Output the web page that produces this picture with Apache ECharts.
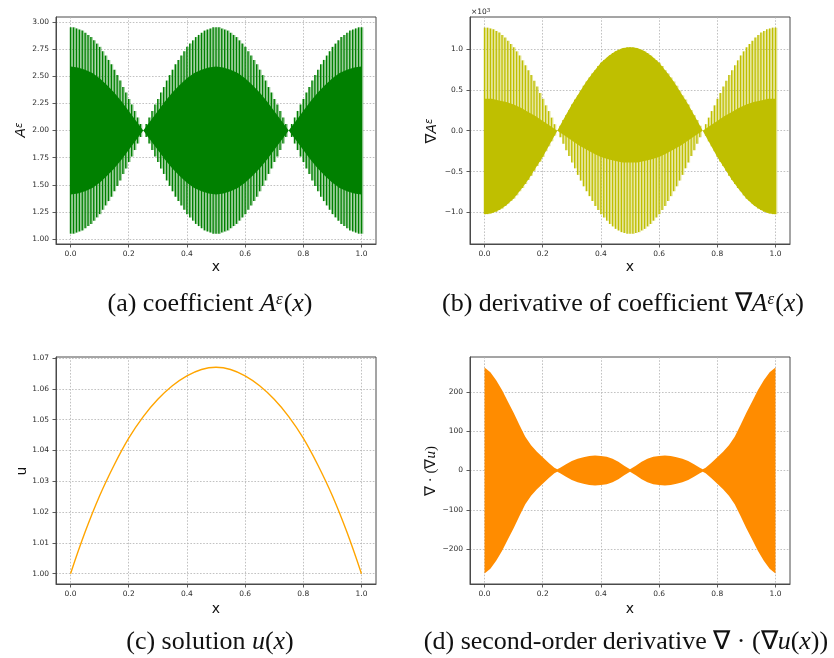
<!DOCTYPE html>
<html>
<head>
<meta charset="utf-8">
<script src="https://cdn.jsdelivr.net/npm/echarts@6/dist/echarts.min.js"></script>
<style>
html, body { margin: 0; padding: 0; background: #ffffff; }
#chart { width: 834px; height: 658px; }
</style>
</head>
<body>
<div id="chart"></div>
<script>
// ---------- shared ----------
const xTicks = [0, 0.2, 0.4, 0.6, 0.8, 1.0];

// sample positions of the oscillation peaks (one per period)
const spikeX = [
  0, 0.01, 0.02, 0.03, 0.04, 0.05, 0.06, 0.07, 0.08, 0.09,
  0.10, 0.11, 0.12, 0.13, 0.14, 0.15, 0.16, 0.17, 0.18, 0.19,
  0.20, 0.21, 0.22, 0.23, 0.24, 0.25, 0.26, 0.27, 0.28, 0.29,
  0.30, 0.31, 0.32, 0.33, 0.34, 0.35, 0.36, 0.37, 0.38, 0.39,
  0.40, 0.41, 0.42, 0.43, 0.44, 0.45, 0.46, 0.47, 0.48, 0.49,
  0.50, 0.51, 0.52, 0.53, 0.54, 0.55, 0.56, 0.57, 0.58, 0.59,
  0.60, 0.61, 0.62, 0.63, 0.64, 0.65, 0.66, 0.67, 0.68, 0.69,
  0.70, 0.71, 0.72, 0.73, 0.74, 0.75, 0.76, 0.77, 0.78, 0.79,
  0.80, 0.81, 0.82, 0.83, 0.84, 0.85, 0.86, 0.87, 0.88, 0.89,
  0.90, 0.91, 0.92, 0.93, 0.94, 0.95, 0.96, 0.97, 0.98, 0.99, 1.00
];

// positions where the solid inner band edges are sampled
const bandX = [
  0, 0.025, 0.05, 0.075, 0.10, 0.125, 0.15, 0.175, 0.20, 0.225,
  0.25, 0.275, 0.30, 0.325, 0.35, 0.375, 0.40, 0.425, 0.45, 0.475,
  0.50, 0.525, 0.55, 0.575, 0.60, 0.625, 0.65, 0.675, 0.70, 0.725,
  0.75, 0.775, 0.80, 0.825, 0.85, 0.875, 0.90, 0.925, 0.95, 0.975, 1.00
];

// ---------- (a) coefficient A^eps ----------
const coefSpikeTop = [
  2.95, 2.95, 2.94, 2.93, 2.92, 2.90, 2.88, 2.86, 2.83, 2.80, 2.77, 2.73, 2.69, 2.65, 2.61, 2.56, 2.51, 2.46, 2.40, 2.35, 2.29, 2.24, 2.18, 2.12, 2.06, 2.00,
  2.06, 2.12, 2.18, 2.24, 2.29, 2.35, 2.40, 2.46, 2.51, 2.56, 2.61, 2.65, 2.69, 2.73, 2.77, 2.80, 2.83, 2.86, 2.88, 2.90, 2.92, 2.93, 2.94, 2.95, 2.95,
  2.95, 2.94, 2.93, 2.92, 2.90, 2.88, 2.86, 2.83, 2.80, 2.77, 2.73, 2.69, 2.65, 2.61, 2.56, 2.51, 2.46, 2.40, 2.35, 2.29, 2.24, 2.18, 2.12, 2.06, 2.00,
  2.06, 2.12, 2.18, 2.24, 2.29, 2.35, 2.40, 2.46, 2.51, 2.56, 2.61, 2.65, 2.69, 2.73, 2.77, 2.80, 2.83, 2.86, 2.88, 2.90, 2.92, 2.93, 2.94, 2.95, 2.95
];
const coefSpikeBottom = [
  1.05, 1.05, 1.06, 1.07, 1.08, 1.10, 1.12, 1.14, 1.17, 1.20, 1.23, 1.27, 1.31, 1.35, 1.39, 1.44, 1.49, 1.54, 1.60, 1.65, 1.71, 1.76, 1.82, 1.88, 1.94, 2.00,
  1.94, 1.88, 1.82, 1.76, 1.71, 1.65, 1.60, 1.54, 1.49, 1.44, 1.39, 1.35, 1.31, 1.27, 1.23, 1.20, 1.17, 1.14, 1.12, 1.10, 1.08, 1.07, 1.06, 1.05, 1.05,
  1.05, 1.06, 1.07, 1.08, 1.10, 1.12, 1.14, 1.17, 1.20, 1.23, 1.27, 1.31, 1.35, 1.39, 1.44, 1.49, 1.54, 1.60, 1.65, 1.71, 1.76, 1.82, 1.88, 1.94, 2.00,
  1.94, 1.88, 1.82, 1.76, 1.71, 1.65, 1.60, 1.54, 1.49, 1.44, 1.39, 1.35, 1.31, 1.27, 1.23, 1.20, 1.17, 1.14, 1.12, 1.10, 1.08, 1.07, 1.06, 1.05, 1.05
];
const coefBandTop = [
  2.59, 2.58, 2.56, 2.53, 2.48, 2.42, 2.35, 2.27, 2.18, 2.09, 2.00,
  2.09, 2.18, 2.27, 2.35, 2.42, 2.48, 2.53, 2.56, 2.58, 2.59,
  2.58, 2.56, 2.53, 2.48, 2.42, 2.35, 2.27, 2.18, 2.09, 2.00,
  2.09, 2.18, 2.27, 2.35, 2.42, 2.48, 2.53, 2.56, 2.58, 2.59
];
const coefBandBottom = [
  1.41, 1.42, 1.44, 1.47, 1.52, 1.58, 1.65, 1.73, 1.82, 1.91, 2.00,
  1.91, 1.82, 1.73, 1.65, 1.58, 1.52, 1.47, 1.44, 1.42, 1.41,
  1.42, 1.44, 1.47, 1.52, 1.58, 1.65, 1.73, 1.82, 1.91, 2.00,
  1.91, 1.82, 1.73, 1.65, 1.58, 1.52, 1.47, 1.44, 1.42, 1.41
];
const coefTicks = [1.00, 1.25, 1.50, 1.75, 2.00, 2.25, 2.50, 2.75, 3.00];

// ---------- (b) derivative of A^eps, in units of 10^3 ----------
const derivSpikeHigh = [
  1.26, 1.26, 1.25, 1.24, 1.22, 1.20, 1.17, 1.14, 1.10, 1.06, 1.02, 0.97, 0.92, 0.86, 0.80, 0.74, 0.68, 0.61, 0.54, 0.46, 0.39, 0.31, 0.24, 0.16, 0.08, 0.00,
  0.06, 0.13, 0.19, 0.25, 0.32, 0.38, 0.43, 0.49, 0.55, 0.60, 0.65, 0.70, 0.74, 0.79, 0.83, 0.86, 0.89, 0.92, 0.95, 0.97, 0.99, 1.00, 1.01, 1.02, 1.02,
  1.02, 1.01, 1.00, 0.99, 0.97, 0.95, 0.92, 0.89, 0.86, 0.83, 0.79, 0.74, 0.70, 0.65, 0.60, 0.55, 0.49, 0.43, 0.38, 0.32, 0.25, 0.19, 0.13, 0.06, 0.00,
  0.08, 0.16, 0.24, 0.31, 0.39, 0.46, 0.54, 0.61, 0.68, 0.74, 0.80, 0.86, 0.92, 0.97, 1.02, 1.06, 1.10, 1.14, 1.17, 1.20, 1.22, 1.24, 1.25, 1.26, 1.26
];
const derivSpikeLow = [
  -1.02, -1.02, -1.01, -1.00, -0.99, -0.97, -0.95, -0.92, -0.89, -0.86, -0.83, -0.79, -0.74, -0.70, -0.65, -0.60, -0.55, -0.49, -0.43, -0.38, -0.32, -0.25, -0.19, -0.13, -0.06, 0.00,
  -0.08, -0.16, -0.24, -0.31, -0.39, -0.46, -0.54, -0.61, -0.68, -0.74, -0.80, -0.86, -0.92, -0.97, -1.02, -1.06, -1.10, -1.14, -1.17, -1.20, -1.22, -1.24, -1.25, -1.26, -1.26,
  -1.26, -1.25, -1.24, -1.22, -1.20, -1.17, -1.14, -1.10, -1.06, -1.02, -0.97, -0.92, -0.86, -0.80, -0.74, -0.68, -0.61, -0.54, -0.46, -0.39, -0.31, -0.24, -0.16, -0.08, 0.00,
  -0.06, -0.13, -0.19, -0.25, -0.32, -0.38, -0.43, -0.49, -0.55, -0.60, -0.65, -0.70, -0.74, -0.79, -0.83, -0.86, -0.89, -0.92, -0.95, -0.97, -0.99, -1.00, -1.01, -1.02, -1.02
];
const derivBandTop = [
  0.39, 0.39, 0.37, 0.35, 0.32, 0.28, 0.23, 0.18, 0.12, 0.06, 0.00,
  0.16, 0.32, 0.46, 0.60, 0.72, 0.83, 0.91, 0.97, 1.01, 1.02,
  1.01, 0.97, 0.91, 0.83, 0.72, 0.60, 0.46, 0.32, 0.16, 0.00,
  0.06, 0.12, 0.18, 0.23, 0.28, 0.32, 0.35, 0.37, 0.39, 0.39
];
const derivBandBottom = [
  -1.02, -1.01, -0.97, -0.91, -0.83, -0.72, -0.60, -0.46, -0.32, -0.16, 0.00,
  -0.06, -0.12, -0.18, -0.23, -0.28, -0.32, -0.35, -0.37, -0.39, -0.39,
  -0.39, -0.37, -0.35, -0.32, -0.28, -0.23, -0.18, -0.12, -0.06, 0.00,
  -0.16, -0.32, -0.46, -0.60, -0.72, -0.83, -0.91, -0.97, -1.01, -1.02
];
const derivTicks = [-1.0, -0.5, 0.0, 0.5, 1.0];

// ---------- (c) solution u ----------
const solX = [0, 0.05, 0.10, 0.15, 0.20, 0.25, 0.30, 0.35, 0.40, 0.45, 0.50,
              0.55, 0.60, 0.65, 0.70, 0.75, 0.80, 0.85, 0.90, 0.95, 1.00];
const solU = [1.0000, 1.0135, 1.0253, 1.0353, 1.0440, 1.0510, 1.0566, 1.0610, 1.0642, 1.0663, 1.0670,
              1.0663, 1.0642, 1.0610, 1.0566, 1.0510, 1.0440, 1.0353, 1.0253, 1.0135, 1.0000];
const solTicks = [1.00, 1.01, 1.02, 1.03, 1.04, 1.05, 1.06, 1.07];

// ---------- (d) second-order derivative, envelope of the oscillation ----------
const secondX = [0, 0.02, 0.04, 0.06, 0.08, 0.10, 0.12, 0.14, 0.16, 0.18, 0.20, 0.22, 0.24, 0.25, 0.26,
                 0.28, 0.30, 0.32, 0.34, 0.36, 0.38, 0.40, 0.42, 0.44, 0.46, 0.48, 0.50,
                 0.52, 0.54, 0.56, 0.58, 0.60, 0.62, 0.64, 0.66, 0.68, 0.70, 0.72, 0.74, 0.75, 0.76,
                 0.78, 0.80, 0.82, 0.84, 0.86, 0.88, 0.90, 0.92, 0.94, 0.96, 0.98, 1.00];
const secondTop = [262, 250, 230, 205, 176, 147, 116, 86, 64, 48, 34, 20, 7, 3, 7,
                   16, 24, 30, 34, 37, 38, 37, 35, 30, 22, 12, 3,
                   12, 22, 30, 35, 37, 38, 37, 34, 30, 24, 16, 7, 3, 7,
                   20, 34, 48, 64, 86, 116, 147, 176, 205, 230, 250, 262];
const secondBottom = [-262, -250, -230, -205, -176, -147, -116, -86, -64, -48, -34, -20, -7, -3, -7,
                      -16, -24, -30, -34, -37, -38, -37, -35, -30, -22, -12, -3,
                      -12, -22, -30, -35, -37, -38, -37, -34, -30, -24, -16, -7, -3, -7,
                      -20, -34, -48, -64, -86, -116, -147, -176, -205, -230, -250, -262];
const secondTicks = [-200, -100, 0, 100, 200];

// ---------- styling helpers ----------
const SANS = 'DejaVu Sans';
const SERIF = 'Liberation Serif';
const TICK_COLOR = '#2b2b2b';
const FRAME = '#4a4a4a';

const grids = [
  { left: 56,  top: 17,  width: 320, height: 227 },
  { left: 470, top: 17,  width: 320, height: 227 },
  { left: 56,  top: 357, width: 320, height: 227 },
  { left: 470, top: 357, width: 320, height: 227 }
].map(g => Object.assign({ show: true, borderColor: FRAME, borderWidth: 1, backgroundColor: 'transparent' }, g));

function gridLine() {
  return { show: true, lineStyle: { color: '#b3b3b3', width: 0.8, type: [1.6, 1.6] } };
}

const axisLineStyle = { show: true, onZero: false, lineStyle: { color: FRAME, width: 1 } };

function makeXAxis(gi) {
  return {
    type: 'value', gridIndex: gi, min: -0.05, max: 1.05, position: 'bottom',
    axisLine: axisLineStyle,
    axisTick: { show: true, inside: false, length: 3.5, customValues: xTicks, lineStyle: { color: FRAME, width: 0.9 } },
    axisLabel: { customValues: xTicks, formatter: v => v.toFixed(1), fontSize: 7.5, color: TICK_COLOR,
                 fontFamily: SANS, margin: 6 },
    splitLine: gridLine()
  };
}

function makeYAxis(gi, min, max, ticks, fmt) {
  return {
    type: 'value', gridIndex: gi, min: min, max: max, position: 'left',
    axisLine: axisLineStyle,
    axisTick: { show: true, inside: false, length: 3.5, customValues: ticks, lineStyle: { color: FRAME, width: 0.9 } },
    axisLabel: { customValues: ticks, formatter: fmt, fontSize: 7.5, color: TICK_COLOR,
                 fontFamily: SANS, margin: 7 },
    splitLine: gridLine()
  };
}

const minusFmt = digits => v => (v < 0 ? '\u2212' : '') + Math.abs(v).toFixed(digits);

// vertical strokes of the fast oscillation: a solid stroke with a faint edge next to it
function spikeRenderer(color) {
  return function (params, api) {
    const x = api.value(0);
    const top = api.coord([x, api.value(2)]);
    const bot = api.coord([x, api.value(1)]);
    const h = bot[1] - top[1];
    return {
      type: 'group',
      children: [
        { type: 'rect', shape: { x: top[0] - 0.75, y: top[1], width: 1.5, height: h }, style: { fill: color } },
        { type: 'rect', shape: { x: top[0] + 0.75, y: top[1], width: 1.2, height: h }, style: { fill: color, opacity: 0.4 } }
      ]
    };
  };
}

// solid region between two sampled edges, drawn as one polygon
function bandRenderer(xs, tops, bottoms, color) {
  return function (params, api) {
    if (params.dataIndex !== 0) return null;
    const pts = [];
    for (let i = 0; i < xs.length; i++) pts.push(api.coord([xs[i], tops[i]]));
    for (let i = xs.length - 1; i >= 0; i--) pts.push(api.coord([xs[i], bottoms[i]]));
    return { type: 'polygon', shape: { points: pts }, style: { fill: color } };
  };
}

function spikeSeries(gi, lows, highs, color) {
  return {
    type: 'custom', xAxisIndex: gi, yAxisIndex: gi, clip: true,
    renderItem: spikeRenderer(color),
    encode: { x: 0, y: [1, 2] },
    data: spikeX.map((x, k) => [x, lows[k], highs[k]]),
    z: 2
  };
}

function bandSeries(gi, xs, tops, bottoms, color) {
  return {
    type: 'custom', xAxisIndex: gi, yAxisIndex: gi, clip: true,
    renderItem: bandRenderer(xs, tops, bottoms, color),
    encode: { x: 0, y: [1, 2] },
    data: xs.map((x, i) => [x, bottoms[i], tops[i]]),
    z: 3
  };
}

// ---------- text: axis names and captions ----------
function label(x, y, text, rich, rotate, font) {
  return {
    type: 'text', x: x, y: y, rotation: rotate ? Math.PI / 2 : 0, z: 10,
    style: {
      text: text, fill: '#111', font: font,
      align: 'center', verticalAlign: 'middle', rich: rich || {}
    }
  };
}

const capFont = '26px "' + SERIF + '"';
const capRich = {
  i: { fontFamily: SERIF, fontSize: 26, fontStyle: 'italic', fill: '#111' },
  s: { fontFamily: SERIF, fontSize: 17, fontStyle: 'italic', fill: '#111', verticalAlign: 'top', padding: [0, 1, 0, 0] },
  r: { fontFamily: SERIF, fontSize: 26, fill: '#111' }
};
const axRich = {
  a: { fontFamily: SANS, fontSize: 14, fontStyle: 'italic', fill: '#111' },
  s: { fontFamily: SANS, fontSize: 10, fontStyle: 'italic', fill: '#111', verticalAlign: 'top' },
  n: { fontFamily: SANS, fontSize: 15, fill: '#111' },
  m: { fontFamily: SERIF, fontSize: 15, fill: '#111' },
  mi: { fontFamily: SERIF, fontSize: 15, fontStyle: 'italic', fill: '#111' },
  e: { fontFamily: SANS, fontSize: 7.5, fill: '#222' },
  es: { fontFamily: SANS, fontSize: 5.5, fill: '#222', verticalAlign: 'top' }
};
const axFont = '14px "' + SANS + '"';

const graphics = [
  // x axis names
  label(216, 267, 'x', null, false, axFont),
  label(630, 267, 'x', null, false, axFont),
  label(216, 609, 'x', null, false, axFont),
  label(630, 609, 'x', null, false, axFont),
  // y axis names
  label(21, 130, '{a|A}{s|\u03b5}', axRich, true, axFont),
  label(432, 131, '{n|\u2207}{a|A}{s|\u03b5}', axRich, true, axFont),
  label(22, 471, 'u', null, true, axFont),
  label(431, 471, '{m|\u2207 \u00b7 (\u2207}{mi|u}{m|)}', axRich, true, axFont),
  // exponent of the derivative axis
  { type: 'text', x: 471, y: 12, z: 10,
    style: { text: '{e|\u00d710}{es|3}', rich: axRich, align: 'left', verticalAlign: 'middle' } },
  // captions
  label(210, 304, '{r|(a) coefficient }{i|A}{s|\u03b5}{r|(}{i|x}{r|)}', capRich, false, capFont),
  label(623, 304, '{r|(b) derivative of coefficient \u2207}{i|A}{s|\u03b5}{r|(}{i|x}{r|)}', capRich, false, capFont),
  label(210, 642, '{r|(c) solution }{i|u}{r|(}{i|x}{r|)}', capRich, false, capFont),
  label(626, 642, '{r|(d) second-order derivative \u2207 \u00b7 (\u2207}{i|u}{r|(}{i|x}{r|))}', capRich, false, capFont)
];

// ---------- chart ----------
const chart = echarts.init(document.getElementById('chart'), null, { renderer: 'canvas' });
chart.setOption({
  animation: false,
  backgroundColor: '#ffffff',
  grid: grids,
  xAxis: [makeXAxis(0), makeXAxis(1), makeXAxis(2), makeXAxis(3)],
  yAxis: [
    makeYAxis(0, 0.955, 3.045, coefTicks, v => v.toFixed(2)),
    makeYAxis(1, -1.385, 1.39, derivTicks, minusFmt(1)),
    makeYAxis(2, 0.99665, 1.07035, solTicks, v => v.toFixed(2)),
    makeYAxis(3, -289, 289, secondTicks, minusFmt(0))
  ],
  series: [
    spikeSeries(0, coefSpikeBottom, coefSpikeTop, '#008000'),
    bandSeries(0, bandX, coefBandTop, coefBandBottom, '#008000'),
    spikeSeries(1, derivSpikeLow, derivSpikeHigh, '#bfbf00'),
    bandSeries(1, bandX, derivBandTop, derivBandBottom, '#bfbf00'),
    {
      type: 'line', xAxisIndex: 2, yAxisIndex: 2,
      data: solX.map((x, i) => [x, solU[i]]),
      smooth: 0.4, showSymbol: false, symbol: 'none',
      lineStyle: { color: '#ffa500', width: 1.4 }, z: 3
    },
    bandSeries(3, secondX, secondTop, secondBottom, '#ff8c00')
  ],
  graphic: graphics
});
</script>
</body>
</html>
